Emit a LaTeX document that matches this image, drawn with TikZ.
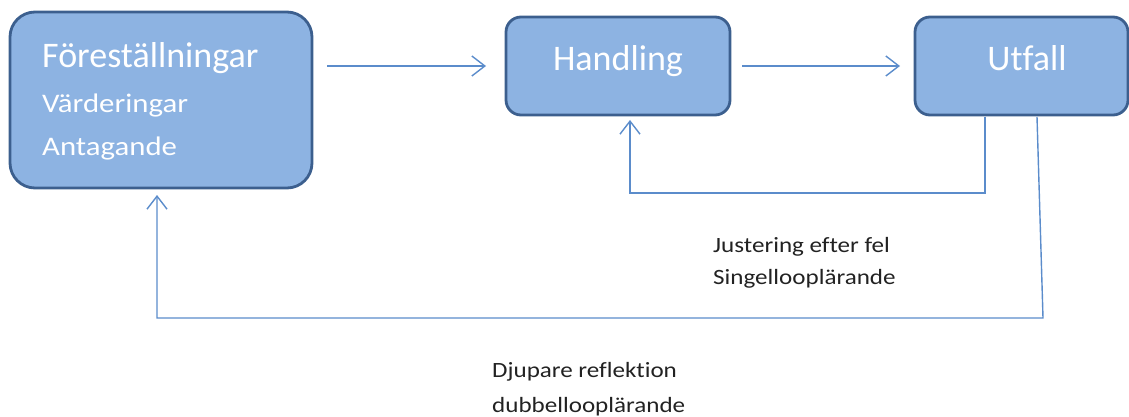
\documentclass[tikz,border=0pt]{standalone}
\usepackage{fontspec}
\setmainfont{Carlito}[Ligatures=NoCommon]
\newfontfamily\widefont[FakeStretch=1.15,Ligatures=NoCommon]{Carlito}
\usetikzlibrary{arrows.meta}
\definecolor{boxfill}{HTML}{8DB3E2}
\definecolor{boxline}{HTML}{3C5F8E}
\definecolor{arrowc}{HTML}{5B8CCB}
\definecolor{labelc}{HTML}{222222}
\tikzset{
  box/.style={draw=boxline, line width=2.8pt, fill=boxfill, rounded corners=#1},
  box/.default=15pt,
  conn/.style={draw=arrowc, line width=1.4pt, -{Straight Barb[length=13pt,width=20pt,line width=1.4pt]}},
  lbl/.style={text=labelc, font=\widefont\fontsize{21.8}{24}\selectfont, anchor=base west, inner sep=0pt},
  wtxt/.style={text=white, inner sep=0pt, anchor=base west},
  btxt/.style={text=white, inner sep=0pt, anchor=base, font=\fontsize{36}{38}\selectfont},
}
\begin{document}
\begin{tikzpicture}[x=1pt,y=-1pt]
\useasboundingbox (0,0) rectangle (1129,417);
% boxes
\draw[box=25pt] (10,12) rectangle (312,188);
\draw[box=15pt] (506,17) rectangle (730,115);
\draw[box=15pt] (915,17) rectangle (1128,115);
\node[wtxt, font=\fontsize{36}{38}\selectfont] (t1) at (42,68) {Föreställningar};
\node[wtxt, font=\widefont\fontsize{26.8}{28}\selectfont] (t2) at (42,113) {Värderingar};
\node[wtxt, font=\widefont\fontsize{26.8}{28}\selectfont] (t3) at (42,155) {Antagande};
\node[btxt] (h) at (618,71) {Handling};
\node[btxt] (u) at (1027,71) {Utfall};
% forward arrows
\coordinate (a1s) at (327,66);
\coordinate (a1e) at (486,66);
\coordinate (a2s) at (742,66);
\coordinate (a2e) at (900,66);
\draw[conn] (a1s) -- (a1e);
\draw[conn] (a2s) -- (a2e);
% single loop
\coordinate (s0) at (985,117);
\coordinate (s1) at (985,193);
\coordinate (s2) at (630,193);
\coordinate (s3) at (630,120);
\draw[conn] (s0) -- (s1) -- (s2) -- (s3);
% double loop
\coordinate (d0) at (1037,117);
\coordinate (d1) at (1043,318);
\coordinate (d2) at (157,318);
\coordinate (d3) at (157,195);
\draw[conn] (d0) -- (d1) -- (d2) -- (d3);
% labels
\node[lbl] (j1) at (713,252) {Justering efter fel};
\node[lbl] (j2) at (713,284) {Singellooplärande};
\node[lbl] (k1) at (492,377) {Djupare reflektion};
\node[lbl] (k2) at (492,412) {dubbellooplärande};
\end{tikzpicture}
\end{document}
